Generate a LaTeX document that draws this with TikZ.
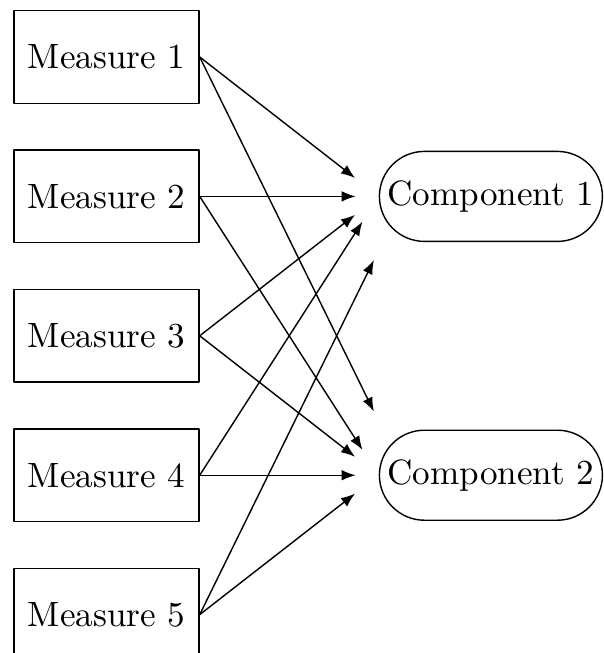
\documentclass[tikz,border=0pt]{standalone}
\usepackage{tikz}
\usetikzlibrary{arrows.meta}
\usetikzlibrary{positioning}

\begin{document}
\begin{tikzpicture}[line cap=round,line join=round,x=1cm,y=1cm,
  measure/.style={draw, minimum width=1.85cm, minimum height=0.925cm, inner sep=2pt},
  component/.style={draw, rounded corners=0.45cm, minimum width=2.23cm, minimum height=0.9cm, inner xsep=2pt},
  arr/.style={-{Latex[length=4pt, width=3pt]}, shorten >=0.3cm}]
\clip (0,0) rectangle (6.04,-6.53);
\node[measure] (m1) at (1.065,-0.57) {Measure 1};
\node[measure, below=0.455cm of m1] (m2) {Measure 2};
\node[measure, below=0.455cm of m2] (m3) {Measure 3};
\node[measure, below=0.455cm of m3] (m4) {Measure 4};
\node[measure, below=0.455cm of m4] (m5) {Measure 5};
\node[component, right=1.79cm of m2] (c1) {Component 1};
\node[component, right=1.79cm of m4] (c2) {Component 2};
\draw[arr] (m1.east) -- (c1.west);
\draw[arr, shorten >=0.23cm] (m2.east) -- (c1.west);
\draw[arr] (m3.east) -- (c1.west);
\draw[arr] (m4.east) -- (c1.west);
\draw[arr, shorten >=0.2cm] (m5.east) -- ([xshift=0.04cm]c1.south west);
\draw[arr, shorten >=0.2cm] (m1.east) -- ([xshift=0.04cm]c2.north west);
\draw[arr] (m2.east) -- (c2.west);
\draw[arr] (m3.east) -- (c2.west);
\draw[arr, shorten >=0.23cm] (m4.east) -- (c2.west);
\draw[arr] (m5.east) -- (c2.west);
\end{tikzpicture}
\end{document}
